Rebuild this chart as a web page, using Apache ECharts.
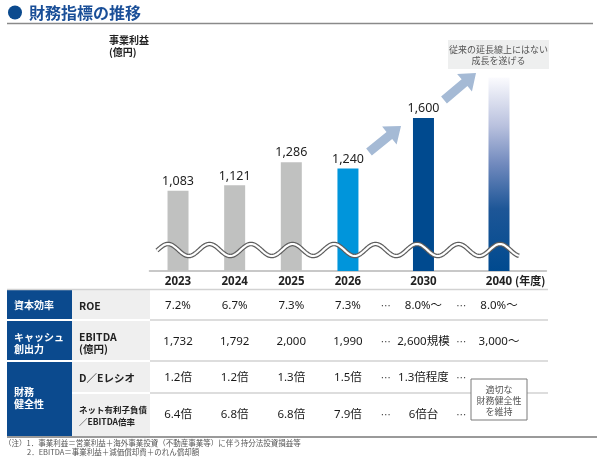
<!DOCTYPE html>
<html><head><meta charset="utf-8">
<script src="https://cdn.jsdelivr.net/npm/echarts@6/dist/echarts.min.js"></script>
<style>html,body{margin:0;padding:0;background:#fff}#c{width:600px;height:460px}</style>
</head><body><div id="c"></div>
<script>
// ---- data ----
const years = ['2023','2024','2025','2026','2030','2040'];
const profit = [1083, 1121, 1286, 1240, 1600, 1890]; // 2040: visual only, no number shown
const profitLabels = ['1,083','1,121','1,286','1,240','1,600',''];
const roe = ['7.2%','6.7%','7.3%','7.3%','8.0%～','8.0%～'];
const ebitda = ['1,732','1,792','2,000','1,990','2,600規模','3,000～'];
const deRatio = ['1.2倍','1.2倍','1.3倍','1.5倍','1.3倍程度'];
const netDebtRatio = ['6.4倍','6.8倍','6.8倍','7.9倍','6倍台'];
const groupLabels = [['資本効率'],['キャッシュ','創出力'],['財務','健全性']];
const rowLabels = [['ROE'],['EBITDA','(億円)'],['D／Eレシオ'],['ネット有利子負債','／EBITDA倍率']];
const calloutText = ['従来の延長線上にはない','成長を遂げる'];
const boxText = ['適切な','財務健全性','を維持'];
const notes = ['（注）1．事業利益＝営業利益＋海外事業投資（不動産事業等）に伴う持分法投資損益等','2．EBITDA＝事業利益＋減価償却費＋のれん償却額'];

// ---- layout: slots on the category axis (spacing between years) ----
const slotsBefore = [2,3,3,3,4,4];
const trailing = 2;
const cats = []; const yearIdx = [];
years.forEach((y,i)=>{ for(let k=0;k<slotsBefore[i]-1;k++) cats.push(''); cats.push(y); yearIdx.push(cats.length-1); });
for(let k=0;k<trailing;k++) cats.push('');

const gradient2040 = new echarts.graphic.LinearGradient(0,0,0,1,[
  {offset:0,color:'#fbfbfe'},{offset:0.25,color:'#b9c1de'},{offset:0.45,color:'#7089bd'},
  {offset:0.68,color:'#1d5697'},{offset:1,color:'#004a8f'}]);
const barColors = ['#c0c1c0','#c0c1c0','#c0c1c0','#0095db','#004a8f',gradient2040];

const seriesData = cats.map(()=>'-');
yearIdx.forEach((ci,i)=>{
  seriesData[ci] = {value: profit[i], itemStyle:{color: barColors[i]},
    label:{show: profitLabels[i] !== '', formatter: profitLabels[i]}};
});

const F = "'Noto Sans','Noto Sans CJK JP',sans-serif";
const FJ = "'Noto Sans CJK JP',sans-serif";
const chart = echarts.init(document.getElementById('c'), null, {renderer:'canvas'});

chart.setOption({
  animation:false,
  grid:{left:149.7, right:53.8, top:62, bottom:189, containLabel:false},
  xAxis:{type:'category', data:cats, boundaryGap:true,
    axisLine:{lineStyle:{color:'#c8c8c8', width:2}},
    axisTick:{show:false},
    axisLabel:{interval:0, margin:5, color:'#222', fontSize:11.5, fontWeight:'bold', fontFamily:F}},
  yAxis:{type:'value', min:510, max:2000, show:false, splitLine:{show:false}},
  series:[{type:'bar', data:seriesData, barWidth:21, z:2,
    label:{show:true, position:'top', distance:3, color:'#222', fontSize:12.5, fontFamily:F}}]
});

function txt(x,y,s,size,color,weight,align,fam){
  return {type:'text', z:60, style:{text:s, x:x, y:y, fill:color,
    font:(weight||'normal')+' '+size+'px '+(fam||F), textAlign:align||'left', textVerticalAlign:'middle'}};
}
function line(x1,y1,x2,y2,color,w,z){
  return {type:'line', z:z||40, shape:{x1,y1,x2,y2}, style:{stroke:color, lineWidth:w}};
}
function rect(x,y,w,h,fill,stroke,z){
  return {type:'rect', z:z||30, shape:{x,y,width:w,height:h}, style:{fill:fill, stroke:stroke||null, lineWidth:1}};
}
function arrow(x0,y0,x1,y1,sw,hw,hl,color){
  const L=Math.hypot(x1-x0,y1-y0), dx=(x1-x0)/L, dy=(y1-y0)/L, nx=-dy, ny=dx;
  const bx=x1-dx*hl, by=y1-dy*hl;
  const p=[[x0+nx*sw/2,y0+ny*sw/2],[bx+nx*sw/2,by+ny*sw/2],[bx+nx*hw/2,by+ny*hw/2],[x1,y1],
           [bx-nx*hw/2,by-ny*hw/2],[bx-nx*sw/2,by-ny*sw/2],[x0-nx*sw/2,y0-ny*sw/2]];
  return {type:'polygon', z:20, shape:{points:p}, style:{fill:color}};
}

const colX = yearIdx.map(i=>chart.convertToPixel({xAxisIndex:0}, i));
const dots1 = chart.convertToPixel({xAxisIndex:0}, (yearIdx[3]+yearIdx[4])/2);
const dots2 = chart.convertToPixel({xAxisIndex:0}, (yearIdx[4]+yearIdx[5])/2);

const g = [];
// title
g.push({type:'circle', z:60, shape:{cx:15, cy:12.5, r:7}, style:{fill:'#0b4a8e'}});
g.push(txt(29, 13, '財務指標の推移', 16, '#1a4f98', 'bold', 'left', FJ));
g.push(line(7, 23.5, 593, 23.5, '#8a8a8a', 1.6));
g.push(txt(109, 40, '事業利益', 10, '#222', 'bold', 'left', FJ));
g.push(txt(109, 52.5, '(億円)', 10, '#222', 'bold', 'left', FJ));
g.push(txt(515, 281, '(年度)', 11, '#222', 'bold', 'left', FJ));

// callout
g.push(rect(448, 40, 101, 29, '#eeefef'));
g.push(txt(498.5, 50, calloutText[0], 9, '#555', 'normal', 'center', FJ));
g.push(txt(498.5, 61, calloutText[1], 9, '#555', 'normal', 'center', FJ));
// arrows
g.push(arrow(369, 152, 401, 126, 9, 23, 15, '#a5bad5'));
g.push(arrow(444, 100, 476, 73, 9, 23, 15, '#a5bad5'));

// wave break
const pts = [];
for(let x=157; x<=519; x+=1){ pts.push([x, 250 - 6*Math.cos(2*Math.PI*(x-500)/41.5)]); }
g.push({type:'polyline', z:90, shape:{points:pts}, style:{stroke:'#5e5e5e', lineWidth:4.6, fill:null}});
g.push({type:'polyline', z:91, shape:{points:pts}, style:{stroke:'#ffffff', lineWidth:2.2, fill:null}});

// table
const tBottom = 437;
const rowY = [306, 342, 378, 415];
g.push(rect(7, 290, 65, tBottom-290, '#0b4a8e'));
g.push(rect(72, 290, 78, tBottom-290, '#efefef'));
g.push(line(7, 289.5, 548, 289.5, '#d2d2d2', 1.5));
[320, 361].forEach(y=>{ g.push(line(150, y, 548, y, '#d2d2d2', 1.5)); g.push(line(7, y, 150, y, '#ffffff', 2)); });
g.push(line(150, 393, 548, 393, '#d2d2d2', 1.5));
g.push(line(72, 393, 150, 393, '#ffffff', 2));
g.push(line(7, tBottom, 597, tBottom, '#9a9a9a', 2));

// group headers
g.push(txt(14, 305, groupLabels[0][0], 10, '#fff', 'bold', 'left', FJ));
g.push(txt(14, 337, groupLabels[1][0], 10, '#fff', 'bold', 'left', FJ));
g.push(txt(14, 349, groupLabels[1][1], 10, '#fff', 'bold', 'left', FJ));
g.push(txt(14, 392, groupLabels[2][0], 10, '#fff', 'bold', 'left', FJ));
g.push(txt(14, 404, groupLabels[2][1], 10, '#fff', 'bold', 'left', FJ));
// row labels
g.push(txt(79, 306, rowLabels[0][0], 10.5, '#222', 'bold', 'left', FJ));
g.push(txt(79, 337, rowLabels[1][0], 10.5, '#222', 'bold', 'left', FJ));
g.push(txt(79, 349, rowLabels[1][1], 10.5, '#222', 'bold', 'left', FJ));
g.push(txt(79, 378, rowLabels[2][0], 10.5, '#222', 'bold', 'left', FJ));
g.push(txt(79, 410, rowLabels[3][0], 8.5, '#222', 'bold', 'left', FJ));
g.push(txt(79, 422, rowLabels[3][1], 8.5, '#222', 'bold', 'left', FJ));

const rows = [roe, ebitda, deRatio, netDebtRatio];
rows.forEach((arr, r)=>{
  arr.forEach((v, c)=>{ g.push(txt(colX[c], rowY[r], v, 11.5, '#1a1a1a', 'normal', 'center', F)); });
  g.push(txt(dots1, rowY[r], '…', 10, '#333', 'normal', 'center', FJ));
  g.push(txt(dots2, rowY[r], '…', 10, '#333', 'normal', 'center', FJ));
});
// note box
g.push(rect(471, 379, 56, 41, '#ffffff', '#7a7a7a', 70));
boxText.forEach((s,i)=> g.push(Object.assign(txt(499, 390 + i*11, s, 9, '#555', 'normal', 'center', FJ), {z:75})));

// footnotes
g.push(txt(4, 443, notes[0], 7.5, '#555', 'normal', 'left', FJ));
g.push(txt(27, 452, notes[1], 7.5, '#555', 'normal', 'left', FJ));

chart.setOption({graphic:{elements:g}});
</script></body></html>
